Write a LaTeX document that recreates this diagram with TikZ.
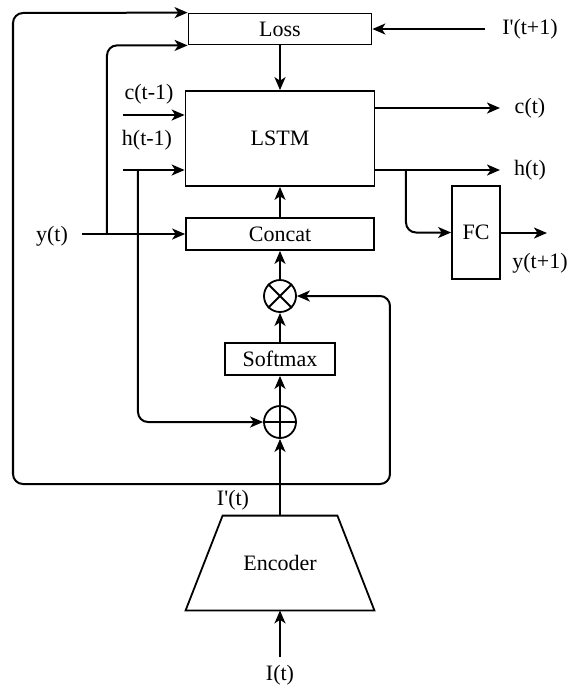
\documentclass[tikz,border=0pt]{standalone}
\usepackage{fontspec}
\setmainfont{Liberation Serif}
\usetikzlibrary{positioning, arrows.meta}

\begin{document}
\begin{tikzpicture}[x=0.5pt, y=-0.5pt, font=\fontsize{11pt}{13pt}\selectfont,
    >={Stealth[length=6.5pt, width=5.5pt, inset=1.8pt]},
    line/.style={line width=1pt, ->, rounded corners=5pt},
    box/.style={draw, line width=0.9pt, rectangle, inner sep=0pt},
    op/.style={draw, line width=0.9pt, circle, minimum size=16pt, inner sep=0pt},
    lbl/.style={inner sep=1pt}]
    \useasboundingbox (0,0) rectangle (581,693);

    \node[box, minimum width=91.5pt, minimum height=15.5pt] (loss) at (280,29) {Loss};
    \node[box, minimum width=94.5pt, minimum height=47.5pt] (lstm) at (280,138.5) {LSTM};
    \node[box, minimum width=94pt, minimum height=16pt] (concat) at (280,234) {Concat};
    \node[op] (mul) at (280,296) {};
    \node[box, minimum width=55pt, minimum height=16pt] (softmax) at (280,359) {Softmax};
    \node[op] (add) at (280,422) {};
    \node[box, minimum width=24pt, minimum height=46.5pt] (fc) at (476,232.5) {FC};
    \node[minimum width=94pt, minimum height=47pt, inner sep=0pt] (enc) at (280,563) {Encoder};

    \draw[line width=0.9pt] (mul.north west) -- (mul.south east) (mul.north east) -- (mul.south west);
    \draw[line width=0.9pt] (add.north) -- (add.south) (add.west) -- (add.east);
    \draw[line width=0.9pt] ([xshift=18.5pt]enc.north west) -- ([xshift=-18.5pt]enc.north east)
        -- (enc.south east) -- (enc.south west) -- cycle;

    % labels
    \node[lbl] (yt) at (52,236) {y(t)};
    \node[lbl] (ctm) at (149,94) {c(t-1)};
    \node[lbl] (htm) at (147,140) {h(t-1)};
    \node[lbl] (itp) at (530,29) {I\textquotesingle(t+1)};
    \node[lbl] (ct) at (530,108) {c(t)};
    \node[lbl] (ht) at (530,170) {h(t)};
    \node[lbl] (ytp) at (540,263) {y(t+1)};
    \node[lbl] (ipt) at (233,500) {I\textquotesingle(t)};
    \node[lbl] (it) at (280,675) {I(t)};

    % free ends and taps
    \coordinate (ys) at (82,234);
    \coordinate (yb) at (107,234);
    \coordinate (cin) at (123,115);
    \coordinate (hin) at (123,170);
    \coordinate (hb) at (138,170);
    \coordinate (iin) at (485,29);
    \coordinate (cout) at (500,108);
    \coordinate (hout) at (500,170);
    \coordinate (hb2) at (406,170);
    \coordinate (yout) at (547,233);
    \coordinate (tap) at (280,484);
    \coordinate (itin) at (280,657);

    \draw[line] (iin) -- (loss.east);
    \draw[line] (loss) -- (lstm);
    \draw[line] (cin) -- (cin -| lstm.west);
    \draw[line] (hin) -- (hin -| lstm.west);
    \draw[line] (ys) -- (concat.west);
    \draw[line] (yb) |- (loss.south west);
    \draw[line] (hb) |- (add.west);
    \draw[line] (lstm.east |- cout) -- (cout);
    \draw[line] (lstm.east |- hout) -- (hout);
    \draw[line] (hb2) |- (fc.west);
    \draw[line] (fc.east |- yout) -- (yout);
    \draw[line] (concat) -- (lstm);
    \draw[line] (mul) -- (concat);
    \draw[line] (softmax) -- (mul);
    \draw[line] (add) -- (softmax);
    \draw[line] (enc.north) -- (add.south);
    \draw[line] (tap) -| (13,13) -- (loss.north west);
    \draw[line] (tap) -| (390,296) -- (mul.east);
    \draw[line] (itin) -- (enc.south);
\end{tikzpicture}
\end{document}
